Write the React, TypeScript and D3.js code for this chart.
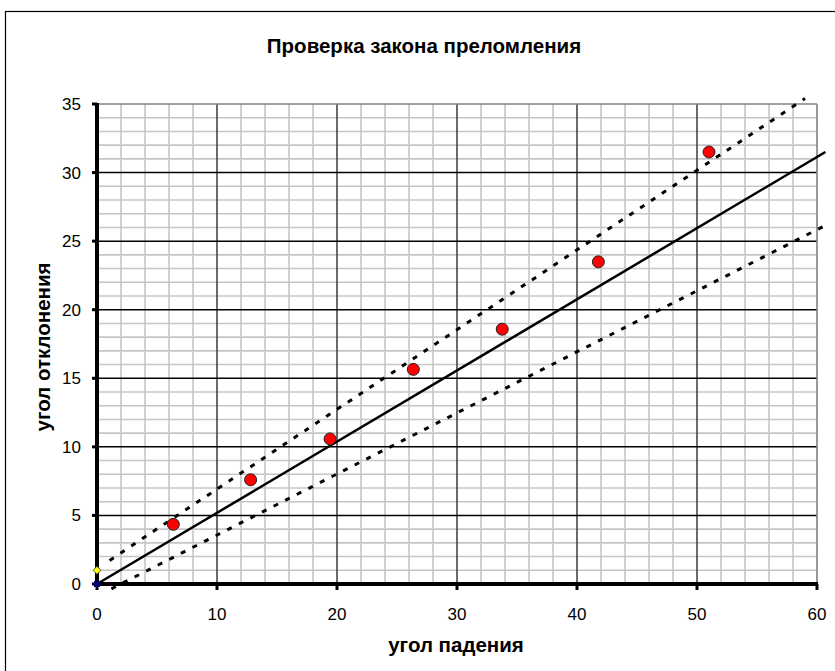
import React from "react";
import * as d3 from "d3";

const title = "Проверка закона преломления";
const xTitle = "угол падения";
const yTitle = "угол отклонения";

const xTicks = [0, 10, 20, 30, 40, 50, 60];
const yTicks = [0, 5, 10, 15, 20, 25, 30, 35];

// measured points (angle of incidence, deviation angle)
const pointsX = [6.36, 12.8, 19.42, 26.36, 33.77, 41.78, 51.0];
const pointsY = [4.35, 7.6, 10.58, 15.65, 18.58, 23.49, 31.5];

// fit line and its bounds (endpoints)
const fitLine: [number, number][] = [[0, 0], [60.7, 31.5]];
const upperLine: [number, number][] = [[1.05, 1.72], [59.0, 35.4]];
const lowerLine: [number, number][] = [[1.2, -0.35], [60.6, 26.1]];

// extra markers on the y-axis
const originPoint: [number, number] = [0, 0];
const yellowPoint: [number, number] = [0, 1];

export default function App() {
  const W = 835, H = 671;
  const left = 97, right = 817, top = 104, bottom = 584;
  const x = d3.scaleLinear().domain([0, 60]).range([left, right]);
  const y = d3.scaleLinear().domain([0, 35]).range([bottom, top]);
  const line = d3.line<[number, number]>().x(d => x(d[0])).y(d => y(d[1]));

  const minorX = d3.range(0, 61, 2).filter(v => v % 10 !== 0);
  const minorY = d3.range(0, 36, 1).filter(v => v % 5 !== 0);
  const font = "Arial, 'Liberation Sans', sans-serif";

  return (
    <svg width={W} height={H} style={{ position: "absolute", left: 0, top: 0, background: "#fff" }}>
      <rect x={0} y={0} width={W} height={H} fill="#fff" />
      {/* outer frame */}
      <rect x={5.5} y={11.5} width={W + 20} height={H + 20} fill="none" stroke="#000" strokeWidth={1.2} />
      <text x={424} y={53} textAnchor="middle" fontFamily={font} fontWeight="bold" fontSize={20.5} fill="#000">{title}</text>

      {/* minor grid */}
      {minorX.map(v => (
        <line key={"mx" + v} x1={x(v)} x2={x(v)} y1={top} y2={bottom} stroke="#c6c6c6" strokeWidth={1.6} />
      ))}
      {minorY.map(v => (
        <line key={"my" + v} x1={left} x2={right} y1={y(v)} y2={y(v)} stroke="#c6c6c6" strokeWidth={1.6} />
      ))}
      {/* major grid */}
      {xTicks.filter(v => v > 0 && v < 60).map(v => (
        <line key={"Mx" + v} x1={x(v)} x2={x(v)} y1={top} y2={bottom} stroke="#3a3a3a" strokeWidth={1.5} />
      ))}
      {yTicks.filter(v => v > 0 && v < 35).map(v => (
        <line key={"My" + v} x1={left} x2={right} y1={y(v)} y2={y(v)} stroke="#000" strokeWidth={1.5} />
      ))}
      {/* plot border top/right */}
      <line x1={left} x2={right} y1={top} y2={top} stroke="#808080" strokeWidth={1.6} />
      <line x1={right} x2={right} y1={top} y2={bottom} stroke="#808080" strokeWidth={1.6} />

      {/* axes */}
      <line x1={left} x2={left} y1={top - 1} y2={bottom + 2} stroke="#000" strokeWidth={4} />
      <line x1={left - 2} x2={right + 1} y1={bottom} y2={bottom} stroke="#000" strokeWidth={4} />
      {yTicks.map(v => (
        <line key={"yt" + v} x1={left - 5} x2={left} y1={y(v)} y2={y(v)} stroke="#000" strokeWidth={3} />
      ))}
      {xTicks.map(v => (
        <line key={"xt" + v} x1={x(v)} x2={x(v)} y1={bottom} y2={bottom + 6} stroke="#000" strokeWidth={3} />
      ))}
      {yTicks.map(v => (
        <text key={"yl" + v} x={81} y={y(v) + 6} textAnchor="end" fontFamily={font} fontSize={17} fill="#000">{v}</text>
      ))}
      {xTicks.map(v => (
        <text key={"xl" + v} x={x(v)} y={620} textAnchor="middle" fontFamily={font} fontSize={17} fill="#000">{v}</text>
      ))}

      {/* lines */}
      <path d={line(upperLine) || ""} fill="none" stroke="#000" strokeWidth={3} strokeDasharray="5 8" />
      <path d={line(lowerLine) || ""} fill="none" stroke="#000" strokeWidth={3} strokeDasharray="5 8" />
      <path d={line(fitLine) || ""} fill="none" stroke="#000" strokeWidth={2.5} />

      {/* markers on y axis */}
      <rect x={x(originPoint[0]) - 3} y={y(originPoint[1]) - 3} width={6} height={6} fill="#000080" />
      <path
        d={`M${x(yellowPoint[0])},${y(yellowPoint[1]) - 4} l4,4 l-4,4 l-4,-4 Z`}
        fill="#ffff00" stroke="#333" strokeWidth={0.8}
      />

      {/* data points */}
      {pointsX.map((v, i) => (
        <circle key={"p" + i} cx={x(v)} cy={y(pointsY[i])} r={6} fill="#ff0000" stroke="#222" strokeWidth={1} />
      ))}

      <text x={456} y={652} textAnchor="middle" fontFamily={font} fontWeight="bold" fontSize={20.5} fill="#000">{xTitle}</text>
      <text transform={`translate(50,347) rotate(-90)`} textAnchor="middle" fontFamily={font} fontWeight="bold" fontSize={20.5} fill="#000">{yTitle}</text>
    </svg>
  );
}
